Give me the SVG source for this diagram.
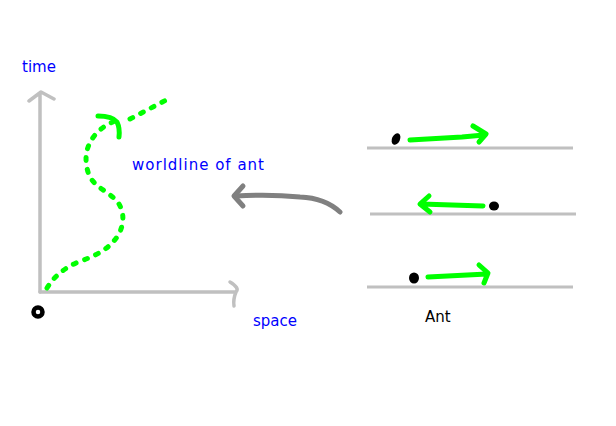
<svg xmlns="http://www.w3.org/2000/svg" width="616" height="426" viewBox="0 0 616 426">
<style>
.axis{fill:none;stroke:#c0c0c0;stroke-width:3.5;stroke-linecap:round;stroke-linejoin:round}
.base{fill:none;stroke:#c0c0c0;stroke-width:3}
.grn{fill:none;stroke:#00ff00;stroke-width:5;stroke-linecap:round;stroke-linejoin:round}
.wl{fill:none;stroke:#00ff00;stroke-width:5;stroke-linecap:round;stroke-dasharray:3 9}
.blue{fill:#0000ff;font-family:"DejaVu Sans",sans-serif;font-size:15px}
.blk{fill:#000;font-family:"DejaVu Sans",sans-serif;font-size:15px}
</style>
<rect width="616" height="426" fill="#fff"/>
<g id="axes">
<path class="axis" d="M40,292 V93 M29,101 L41,92 L54,99"/>
<path class="axis" d="M40,292 H236 M230,282 Q240,288 236,292 Q233,299 234,306"/>
<circle cx="38" cy="312" r="4.5" fill="none" stroke="#000" stroke-width="4.5"/>
<text class="blue" x="22" y="72">time</text>
<text class="blue" x="253" y="326">space</text>
</g>
<g id="worldline">
<path class="wl" d="M47,288 C55,275 65,268 78,262 C95,256 108,250 117,237 C125,225 125,210 116,200 C106,190 92,186 88,172 C84,158 86,146 95,135 C102,127 108,124 113,122"/>
<path class="grn" d="M98,116 Q112,116 117,122 Q120,128 119,137"/>
<path class="wl" d="M130,119 L170,98"/>
<text class="blue" x="132" y="170" textLength="132">worldline of ant</text>
</g>
<g id="connectors">
<path fill="none" stroke="#808080" stroke-width="5" stroke-linecap="round" d="M340,212 Q325,198 300,197 Q270,194 236,196"/>
<path fill="none" stroke="#808080" stroke-width="5" stroke-linecap="round" stroke-linejoin="round" d="M243,186 L234,196 L243,206"/>
</g>
<g id="frame1">
<line class="base" x1="367" y1="148" x2="573" y2="148"/>
<ellipse cx="396" cy="139" rx="4" ry="6" transform="rotate(25 396 139)" fill="#000"/>
<path class="grn" d="M410,140 L462,137 L484,135 M473,126 L486,134 L479,142"/>
</g>
<g id="frame2">
<line class="base" x1="370" y1="214" x2="576" y2="214"/>
<ellipse cx="494" cy="206" rx="5" ry="4.5" fill="#000"/>
<path class="grn" d="M483,206 L421,204 M429,196 L420,204 L430,212"/>
</g>
<g id="frame3">
<line class="base" x1="367" y1="287" x2="573" y2="287"/>
<ellipse cx="414" cy="278" rx="5" ry="5.5" fill="#000"/>
<path class="grn" d="M428,277 L487,274 M479,265 L488,273 L484,283"/>
<text class="blk" x="425" y="322">Ant</text>
</g>
</svg>
